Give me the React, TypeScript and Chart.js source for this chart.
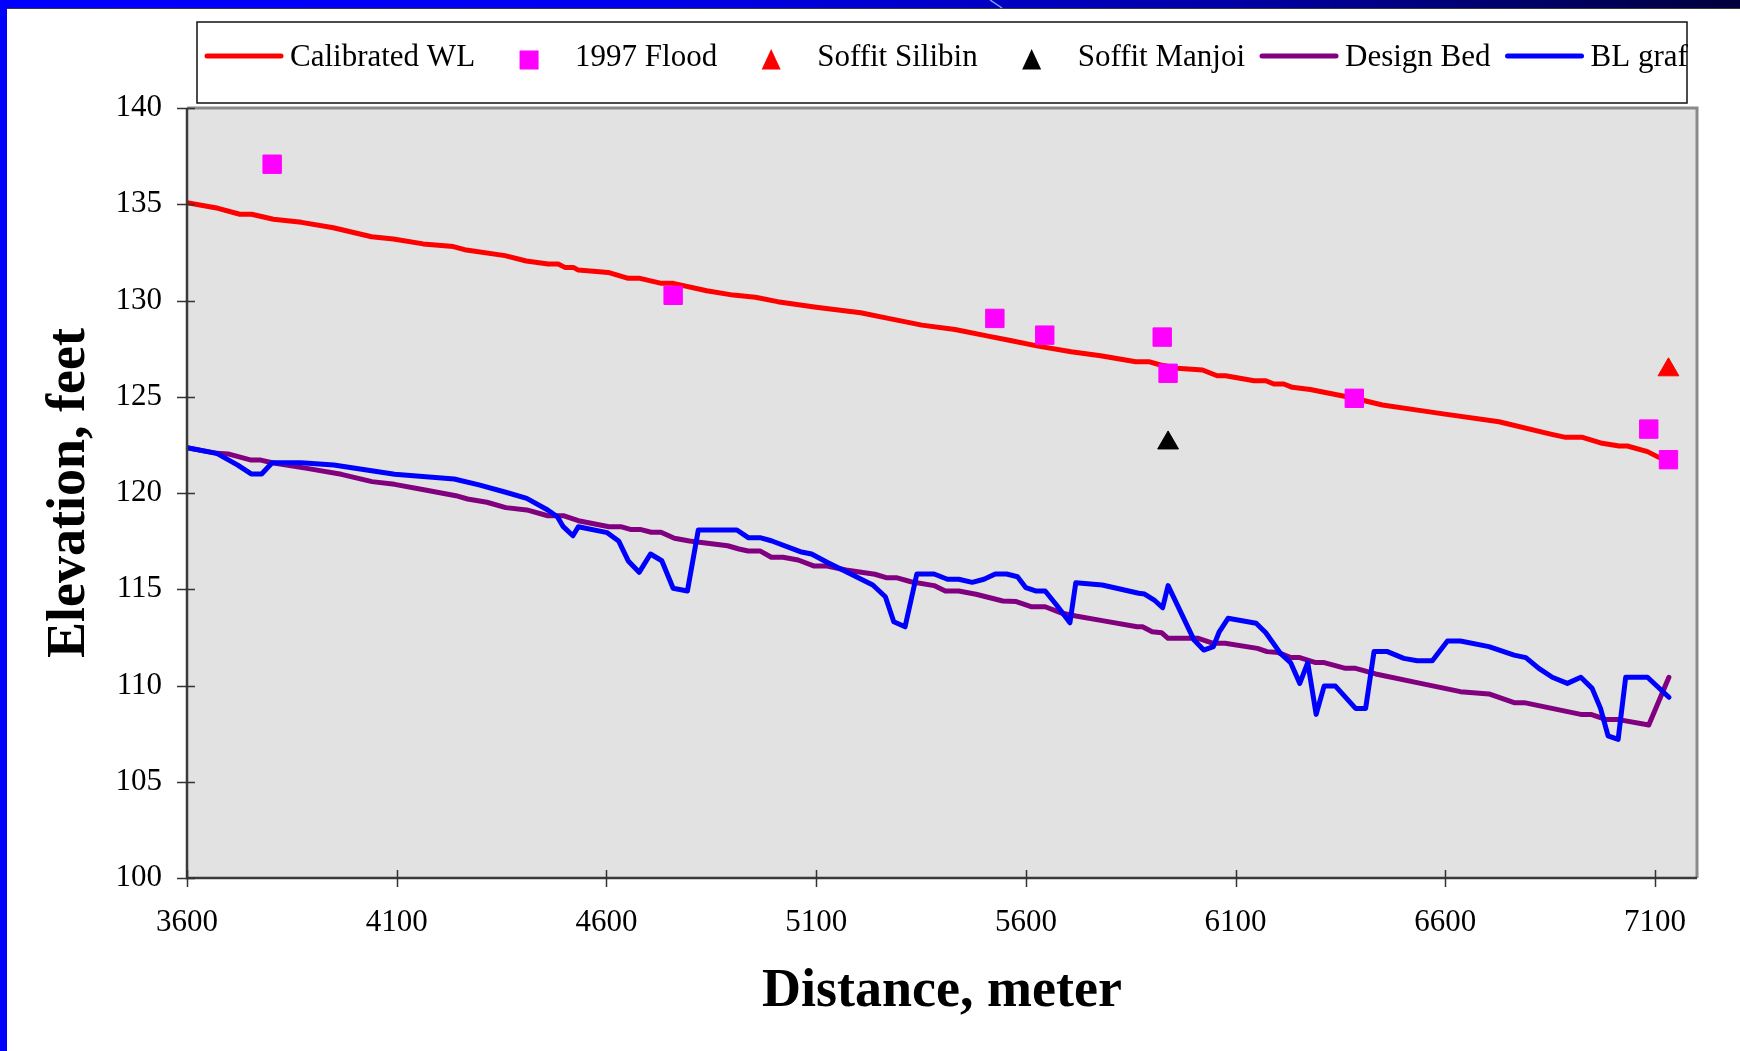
import React, { useEffect, useRef } from "react";
import { Chart, registerables } from "chart.js";

Chart.register(...registerables);

// ---------- data ----------
const CAL_X = [3600, 3674, 3726, 3754, 3806, 3873, 3949, 4040, 4092, 4163, 4235, 4266, 4358, 4409, 4461, 4485, 4501, 4521, 4533, 4604, 4652, 4680, 4731, 4759, 4839, 4902, 4955, 5008, 5100, 5206, 5272, 5352, 5431, 5510, 5563, 5629, 5708, 5778, 5862, 5893, 5921, 5961, 6021, 6056, 6076, 6144, 6172, 6191, 6215, 6235, 6278, 6383, 6450, 6542, 6595, 6728, 6851, 6887, 6927, 6974, 7014, 7034, 7082, 7109, 7132];
const CAL_Y = [135.08, 134.79, 134.48, 134.48, 134.22, 134.06, 133.78, 133.31, 133.19, 132.94, 132.8, 132.62, 132.33, 132.05, 131.9, 131.9, 131.72, 131.72, 131.58, 131.46, 131.15, 131.15, 130.89, 130.89, 130.51, 130.28, 130.17, 129.94, 129.65, 129.36, 129.07, 128.72, 128.49, 128.15, 127.92, 127.63, 127.34, 127.13, 126.82, 126.82, 126.65, 126.48, 126.39, 126.09, 126.09, 125.83, 125.83, 125.66, 125.66, 125.49, 125.38, 124.92, 124.57, 124.28, 124.11, 123.7, 123.06, 122.89, 122.89, 122.58, 122.44, 122.44, 122.15, 121.85, 121.75];

const FLOOD_X = [3803, 4759, 5526, 5645, 5925, 5939, 6383, 7085, 7132];
const FLOOD_Y = [137.08, 130.27, 129.07, 128.2, 128.1, 126.22, 124.92, 123.32, 121.73];

const SILIBIN_X = [7132];
const SILIBIN_Y = [126.4];

const MANJOI_X = [5939];
const MANJOI_Y = [122.6];

const BED_X = [3600, 3671, 3698, 3753, 3776, 3803, 3886, 3968, 4041, 4095, 4168, 4241, 4269, 4315, 4360, 4410, 4460, 4497, 4533, 4606, 4634, 4657, 4680, 4707, 4730, 4762, 4798, 4889, 4916, 4938, 4966, 4993, 5021, 5057, 5094, 5126, 5171, 5240, 5267, 5291, 5326, 5381, 5408, 5440, 5481, 5545, 5577, 5614, 5646, 5687, 5719, 5782, 5865, 5878, 5901, 5924, 5939, 6011, 6047, 6075, 6152, 6175, 6202, 6230, 6251, 6291, 6311, 6362, 6386, 6434, 6541, 6636, 6704, 6764, 6788, 6923, 6947, 6982, 7010, 7085, 7133];
const BED_Y = [122.35, 122.06, 122.03, 121.71, 121.71, 121.57, 121.28, 120.97, 120.59, 120.45, 120.16, 119.86, 119.69, 119.52, 119.24, 119.12, 118.82, 118.82, 118.56, 118.25, 118.25, 118.11, 118.11, 117.96, 117.96, 117.65, 117.51, 117.26, 117.09, 116.99, 116.99, 116.66, 116.66, 116.52, 116.21, 116.21, 116.0, 115.78, 115.6, 115.6, 115.39, 115.19, 114.91, 114.91, 114.74, 114.39, 114.36, 114.09, 114.09, 113.75, 113.61, 113.37, 113.05, 113.05, 112.79, 112.74, 112.45, 112.45, 112.19, 112.19, 111.93, 111.76, 111.71, 111.46, 111.46, 111.19, 111.19, 110.89, 110.89, 110.6, 110.11, 109.68, 109.56, 109.11, 109.11, 108.5, 108.5, 108.24, 108.24, 107.95, 110.43];

const BL_X = [3600, 3671, 3721, 3753, 3778, 3803, 3872, 3950, 4095, 4237, 4296, 4360, 4410, 4460, 4483, 4497, 4520, 4533, 4602, 4629, 4652, 4678, 4705, 4732, 4759, 4793, 4819, 4911, 4938, 4966, 4993, 5062, 5089, 5126, 5235, 5265, 5285, 5312, 5340, 5381, 5413, 5440, 5472, 5500, 5527, 5554, 5580, 5600, 5623, 5646, 5673, 5705, 5719, 5782, 5869, 5883, 5906, 5926, 5939, 6001, 6024, 6047, 6061, 6082, 6149, 6172, 6207, 6231, 6253, 6272, 6292, 6311, 6338, 6386, 6410, 6430, 6462, 6501, 6533, 6569, 6605, 6636, 6704, 6764, 6792, 6823, 6855, 6891, 6923, 6950, 6970, 6988, 7012, 7030, 7082, 7133];
const BL_Y = [122.35, 122.06, 121.45, 120.99, 120.99, 121.57, 121.57, 121.45, 120.97, 120.73, 120.42, 120.04, 119.72, 119.12, 118.77, 118.25, 117.78, 118.25, 117.94, 117.51, 116.47, 115.88, 116.83, 116.48, 115.05, 114.91, 118.08, 118.08, 117.68, 117.68, 117.52, 116.95, 116.83, 116.4, 115.22, 114.61, 113.31, 113.05, 115.79, 115.79, 115.52, 115.52, 115.36, 115.52, 115.79, 115.79, 115.65, 115.08, 114.91, 114.91, 114.18, 113.26, 115.34, 115.22, 114.79, 114.75, 114.44, 114.04, 115.19, 112.36, 111.84, 112.02, 112.79, 113.49, 113.23, 112.74, 111.67, 111.19, 110.11, 111.19, 108.5, 109.97, 109.97, 108.81, 108.81, 111.76, 111.76, 111.41, 111.29, 111.29, 112.31, 112.31, 112.02, 111.58, 111.45, 110.89, 110.43, 110.11, 110.43, 109.85, 108.81, 107.38, 107.2, 110.43, 110.43, 109.39];

const X_TICKS = [3600, 4100, 4600, 5100, 5600, 6100, 6600, 7100];
const X_MIN = 3600;
const X_MAX = 7200;
const Y_MIN = 100;
const Y_MAX = 140;
const Y_STEP = 5;

const X_TITLE = "Distance, meter";
const Y_TITLE = "Elevation, feet";

// ---------- helpers ----------
const zip = (xs: number[], ys: number[]) => xs.map((x, i) => ({ x, y: ys[i] }));

const SERIF = "'Liberation Serif', 'Times New Roman', serif";
const W = 1740;
const H = 1051;

const backgroundPlugin = {
  id: "pageBackground",
  beforeDraw(chart: any) {
    const { ctx, chartArea: a } = chart;
    ctx.save();
    ctx.fillStyle = "#ffffff";
    ctx.fillRect(0, 0, chart.width, chart.height);
    // top band
    const g = ctx.createLinearGradient(0, 0, chart.width, 0);
    g.addColorStop(0, "#0000ff");
    g.addColorStop(0.35, "#0000f0");
    g.addColorStop(0.7, "#0000a8");
    g.addColorStop(1, "#00003c");
    ctx.fillStyle = g;
    ctx.fillRect(0, 0, chart.width, 8);
    ctx.fillStyle = "#3a3a3a";
    ctx.fillRect(7, 8, chart.width - 7, 1);
    ctx.strokeStyle = "#7aa6ff";
    ctx.lineWidth = 1.5;
    ctx.beginPath();
    ctx.moveTo(990, 0);
    ctx.lineTo(1002, 8);
    ctx.stroke();
    // left stripe
    ctx.fillStyle = "#0000ff";
    ctx.fillRect(0, 0, 7, chart.height);
    // plot area
    ctx.fillStyle = "#e2e2e2";
    ctx.fillRect(a.left, a.top, a.right - a.left, a.bottom - a.top);
    ctx.restore();
  },
};

const framePlugin = {
  id: "plotFrame",
  afterDatasetsDraw(chart: any) {
    const { ctx, chartArea: a, scales } = chart;
    ctx.save();
    ctx.lineCap = "butt";
    // top + right (gray)
    ctx.strokeStyle = "#8a8a8a";
    ctx.lineWidth = 3;
    ctx.beginPath();
    ctx.moveTo(a.left, a.top);
    ctx.lineTo(a.right, a.top);
    ctx.lineTo(a.right, a.bottom);
    ctx.stroke();
    // left + bottom axis lines
    ctx.strokeStyle = "#3a3a3a";
    ctx.lineWidth = 2.5;
    ctx.beginPath();
    ctx.moveTo(a.left, a.top);
    ctx.lineTo(a.left, a.bottom);
    ctx.lineTo(a.right, a.bottom);
    ctx.stroke();
    // ticks
    ctx.strokeStyle = "#333333";
    ctx.lineWidth = 1.5;
    ctx.beginPath();
    for (const t of scales.y.ticks) {
      const py = Math.round(scales.y.getPixelForValue(t.value)) + 0.5;
      ctx.moveTo(a.left - 10, py);
      ctx.lineTo(a.left + 8, py);
    }
    for (const t of scales.x.ticks) {
      const px = Math.round(scales.x.getPixelForValue(t.value)) + 0.5;
      ctx.moveTo(px, a.bottom - 8);
      ctx.lineTo(px, a.bottom + 9);
    }
    ctx.stroke();
    ctx.restore();
  },
};

const legendPlugin = {
  id: "boxLegend",
  afterDraw(chart: any) {
    const { ctx } = chart;
    const box = { left: 197, top: 22, right: 1687, bottom: 103 };
    ctx.save();
    ctx.fillStyle = "#ffffff";
    ctx.fillRect(box.left, box.top, box.right - box.left, box.bottom - box.top);
    ctx.strokeStyle = "#111111";
    ctx.lineWidth = 1.5;
    ctx.strokeRect(box.left, box.top, box.right - box.left, box.bottom - box.top);

    ctx.font = `31px ${SERIF}`;
    ctx.textBaseline = "middle";
    ctx.textAlign = "left";
    const symW = 78;
    const lineY = 56;
    const markY = 60;
    let x = 205;
    chart.data.datasets.forEach((ds: any) => {
      const cx = x + symW / 2;
      if (ds.showLine !== false) {
        ctx.strokeStyle = ds.borderColor;
        ctx.lineWidth = 5;
        ctx.lineCap = "round";
        ctx.beginPath();
        ctx.moveTo(x + 2, lineY);
        ctx.lineTo(x + symW - 2, lineY);
        ctx.stroke();
      } else if (ds.pointStyle === "rect") {
        ctx.fillStyle = ds.backgroundColor;
        ctx.fillRect(cx - 9.5, markY - 9.5, 19, 19);
      } else if (ds.pointStyle === "triangle") {
        ctx.fillStyle = ds.backgroundColor;
        ctx.beginPath();
        ctx.moveTo(cx, markY - 11);
        ctx.lineTo(cx + 9.5, markY + 9.5);
        ctx.lineTo(cx - 9.5, markY + 9.5);
        ctx.closePath();
        ctx.fill();
      }
      x += symW + 7;
      ctx.fillStyle = "#000000";
      ctx.fillText(ds.label, x, 57.5);
      x += ctx.measureText(ds.label).width + 15;
    });
    ctx.restore();
  },
};

export default function App() {
  const canvasRef = useRef<HTMLCanvasElement>(null);

  useEffect(() => {
    const canvas = canvasRef.current;
    if (!canvas) return;
    const lineCommon = {
      borderWidth: 5,
      pointRadius: 0,
      pointHoverRadius: 0,
      tension: 0,
      borderJoinStyle: "round" as const,
      borderCapStyle: "round" as const,
      fill: false,
    };
    const chart = new Chart(canvas, {
      type: "line",
      data: {
        datasets: [
          { ...lineCommon, label: "Calibrated WL", data: zip(CAL_X, CAL_Y), borderColor: "#ff0000", backgroundColor: "#ff0000", order: 5 },
          { label: "1997 Flood", data: zip(FLOOD_X, FLOOD_Y), showLine: false, pointStyle: "rect", pointRadius: 13, pointHoverRadius: 13, backgroundColor: "#ff00ff", borderColor: "#ff00ff", borderWidth: 1, order: 1 },
          { label: "Soffit Silibin", data: zip(SILIBIN_X, SILIBIN_Y), showLine: false, pointStyle: "triangle", pointRadius: 12, pointHoverRadius: 12, backgroundColor: "#ff0000", borderColor: "#ff0000", borderWidth: 1, order: 2 },
          { label: "Soffit Manjoi", data: zip(MANJOI_X, MANJOI_Y), showLine: false, pointStyle: "triangle", pointRadius: 12, pointHoverRadius: 12, backgroundColor: "#000000", borderColor: "#000000", borderWidth: 1, order: 2 },
          { ...lineCommon, label: "Design Bed", data: zip(BED_X, BED_Y), borderColor: "#800080", backgroundColor: "#800080", order: 4 },
          { ...lineCommon, label: "BL graf", data: zip(BL_X, BL_Y), borderColor: "#0000ff", backgroundColor: "#0000ff", order: 3 },
        ] as any,
      },
      options: {
        responsive: false,
        maintainAspectRatio: false,
        devicePixelRatio: 1,
        animation: false,
        events: [],
        layout: { padding: { left: 0, top: 108, right: 43, bottom: 0 } },
        plugins: {
          legend: { display: false },
          tooltip: { enabled: false },
          title: { display: false },
        },
        scales: {
          x: {
            type: "linear",
            min: X_MIN,
            max: X_MAX,
            grid: { display: false, drawTicks: false },
            border: { display: false },
            afterBuildTicks: (scale: any) => {
              scale.ticks = X_TICKS.map((v) => ({ value: v }));
            },
            afterFit: (scale: any) => {
              scale.height = 173;
            },
            ticks: {
              color: "#000000",
              font: { family: SERIF, size: 31 },
              padding: 26,
              maxRotation: 0,
              autoSkip: false,
              callback: (v: any) => String(v),
            },
            title: {
              display: true,
              text: X_TITLE,
              color: "#000000",
              font: { family: SERIF, size: 54, weight: "bold" },
              padding: { top: 0, bottom: 27 },
            },
          },
          y: {
            type: "linear",
            min: Y_MIN,
            max: Y_MAX,
            grid: { display: false, drawTicks: false },
            border: { display: false },
            afterFit: (scale: any) => {
              scale.width = 187;
            },
            ticks: {
              stepSize: Y_STEP,
              color: "#000000",
              font: { family: SERIF, size: 31 },
              padding: 25,
              callback: (v: any) => String(v),
            },
            title: {
              display: true,
              text: Y_TITLE,
              color: "#000000",
              font: { family: SERIF, size: 54, weight: "bold" },
              padding: { top: 38, bottom: 0 },
            },
          },
        },
      },
      plugins: [backgroundPlugin, framePlugin, legendPlugin],
    });
    return () => chart.destroy();
  }, []);

  return (
    <div style={{ position: "absolute", left: 0, top: 0, width: W, height: H, background: "#ffffff" }}>
      <canvas ref={canvasRef} width={W} height={H} style={{ display: "block", width: W, height: H }} />
    </div>
  );
}
